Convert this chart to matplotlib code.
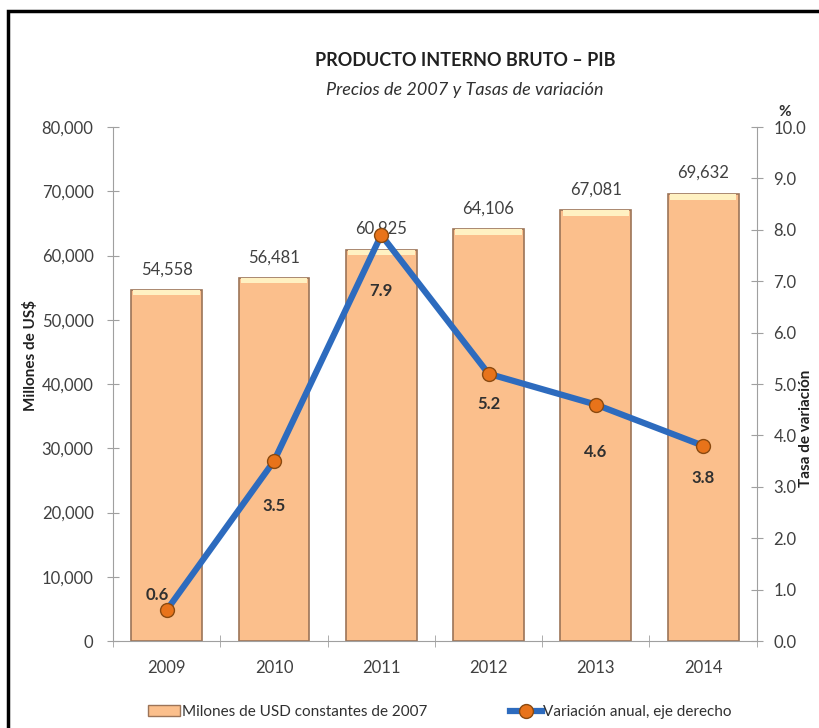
import matplotlib
matplotlib.use('Agg')
import matplotlib.pyplot as plt
import matplotlib.patches as mpatches
from matplotlib.lines import Line2D
import numpy as np

plt.rcParams['font.family'] = ['Lato', 'DejaVu Sans']

# datos
anios = ['2009', '2010', '2011', '2012', '2013', '2014']
pib = [54558, 56481, 60925, 64106, 67081, 69632]
variacion = [0.6, 3.5, 7.9, 5.2, 4.6, 3.8]

# desplazamiento (pt) de las etiquetas de la línea
desp_var = [(-7, 11), (0, -32), (0, -40), (0, -22), (0, -34), (0, -23)]

x = np.arange(len(anios))
gris = '#404040'
naranja = '#FBBF8C'
borde = '#9C7458'
azul = '#2D6BBE'

fig = plt.figure(figsize=(8.19, 7.28), dpi=100)
ax = fig.add_axes([0.138, 0.1195, 0.786, 0.706])

# barras con borde marrón y tapa clara
ax.bar(x, pib, width=0.66, color=naranja, edgecolor=borde, linewidth=1.2, zorder=2)
tapa = np.array(pib) * 0.014
ax.bar(x, tapa, bottom=np.array(pib) - tapa, width=0.62, color='#FFF1C2', linewidth=0, zorder=3)
for xi, v in zip(x, pib):
    ax.annotate(f'{v:,}', (xi, v), xytext=(0, 15), textcoords='offset points',
                ha='center', va='center', fontsize=12, color=gris)

ax.set_xlim(-0.5, len(anios) - 0.5)
ax.set_ylim(0, 80000)
ax.set_yticks(np.arange(0, 80001, 10000))
ax.set_yticklabels([f'{v:,}' for v in range(0, 80001, 10000)])
ax.set_xticks(x)
ax.set_xticklabels(anios)
ax.set_xticks(np.arange(-0.5, len(anios)), minor=True)
ax.tick_params(axis='x', which='major', length=0, pad=14, labelsize=12, labelcolor=gris)
ax.tick_params(axis='x', which='minor', length=8, direction='inout', color='#A0A0A0')
ax.tick_params(axis='y', length=8, direction='inout', color='#A0A0A0', labelsize=12,
               labelcolor=gris, pad=10)
for s in ['top', 'right']:
    ax.spines[s].set_visible(False)
for s in ['left', 'bottom']:
    ax.spines[s].set_color('#A0A0A0')
ax.set_ylabel('Millones de US$', fontsize=11, fontweight='bold', color='#202020')
ax.yaxis.set_label_coords(-0.116, 0.556)

# línea de variación anual en eje derecho
ax2 = ax.twinx()
ax2.plot(x, variacion, color=azul, linewidth=4.5, marker='o', markersize=10,
         markerfacecolor='#E8731A', markeredgecolor='#8A4A10', markeredgewidth=1, zorder=5)
ax2.set_ylim(0, 10)
ax2.set_yticks(np.arange(0, 10.1, 1))
ax2.set_yticklabels([f'{v:.1f}' for v in np.arange(0, 10.1, 1)])
ax2.tick_params(axis='y', length=8, direction='inout', color='#A0A0A0', labelsize=12,
                labelcolor=gris, pad=8)
for s in ['top', 'left', 'bottom']:
    ax2.spines[s].set_visible(False)
ax2.spines['right'].set_color('#A0A0A0')
for i, v in enumerate(variacion):
    ax2.annotate(f'{v}', (x[i], v), xytext=desp_var[i], textcoords='offset points',
                 ha='center', va='center', fontsize=12, fontweight='bold', color='#303030')
fig.text(806 / 819, 1 - 428 / 728, 'Tasa de variación', fontsize=11, fontweight='bold',
         color='#202020', rotation=90, ha='center', va='center')
fig.text(785 / 819, 1 - 112 / 728, '%', fontsize=11, fontweight='bold', color='#303030',
         ha='center', va='center')

# títulos
fig.text(465 / 819, 1 - 60 / 728, 'PRODUCTO INTERNO BRUTO – PIB', fontsize=13,
         fontweight='bold', color='#202020', ha='center', va='center')
fig.text(465 / 819, 1 - 90 / 728, 'Precios de 2007 y Tasas de variación', fontsize=13,
         style='italic', color='#303030', ha='center', va='center')

# leyenda
h1 = mpatches.Patch(facecolor=naranja, edgecolor=borde)
h2 = Line2D([], [], color=azul, linewidth=4.5, marker='o', markersize=10,
            markerfacecolor='#E8731A', markeredgecolor='#8A4A10')
fig.legend([h1, h2], ['Milones de USD constantes de 2007', 'Variación anual, eje derecho'],
           loc='center', bbox_to_anchor=(440 / 819, 1 - 712 / 728), ncol=2, frameon=False,
           fontsize=11, columnspacing=5.4, handlelength=2.1, handletextpad=0.1,
           labelcolor='#303030')

# marco negro
fig.patches.append(mpatches.Rectangle((8 / 819, -0.2), 1.2, 0.2 + 1 - 11 / 728,
                                      transform=fig.transFigure, fill=False,
                                      edgecolor='black', linewidth=2.5))

fig.savefig('out.png', dpi=100)
